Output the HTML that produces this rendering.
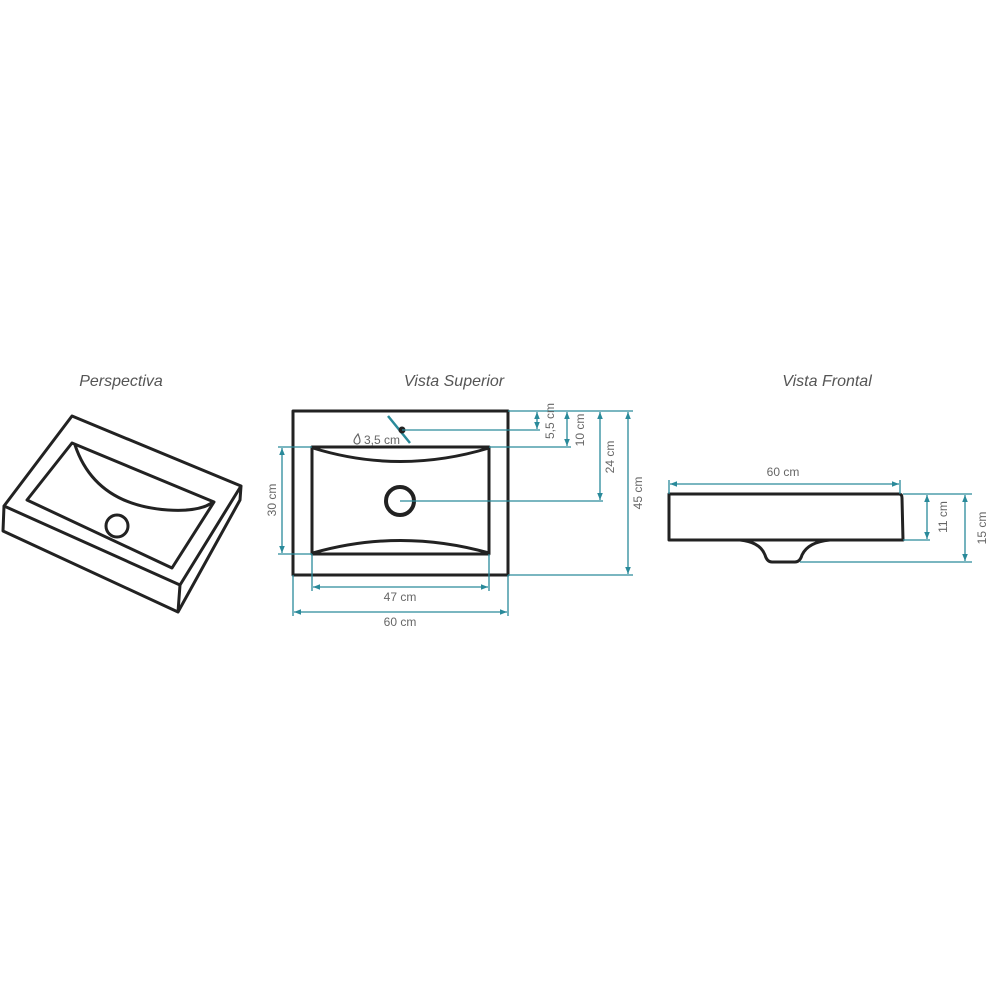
<!DOCTYPE html>
<html><head><style>
html,body{margin:0;padding:0;background:#fff;width:1000px;height:1000px;overflow:hidden}
svg{display:block}
.t{font-family:"Liberation Sans",sans-serif;font-style:italic;font-size:16px;fill:#555}
.d{font-family:"Liberation Sans",sans-serif;font-size:12px;fill:#666}
.k{fill:none;stroke:#222;stroke-width:3;stroke-linejoin:round}
.c{fill:none;stroke:#2a8a9a;stroke-width:1.3}
</style></head><body>
<svg width="1000" height="1000" viewBox="0 0 1000 1000">
<defs>
<marker id="a" viewBox="0 0 10 10" refX="10" refY="5" markerWidth="9" markerHeight="7" orient="auto-start-reverse" markerUnits="userSpaceOnUse"><path d="M0,1 L10,5 L0,9 Z" fill="#2a8a9a"/></marker>
</defs>
<text class="t" x="121" y="386" text-anchor="middle">Perspectiva</text>
<text class="t" x="454" y="386" text-anchor="middle">Vista Superior</text>
<text class="t" x="827" y="386" text-anchor="middle">Vista Frontal</text>

<!-- Perspective -->
<g class="k">
<path d="M72,416 L241,486 L180,585 L4,506 Z"/>
<path d="M4,506 L3,531 L178,612 L180,585"/>
<path d="M178,612 L240,500 L241,486"/>
<path d="M72,443 L214,502 L172,568 L27,500 Z"/>
<path d="M75,445 Q95,505 168,510 Q200,512 213,502"/>
<circle cx="117" cy="526" r="11"/>
</g>

<!-- Vista Superior -->
<g class="k">
<rect x="293" y="411" width="215" height="164"/>
<rect x="312" y="447" width="177" height="107"/>
<path d="M313,448 Q400,475 489,448"/>
<path d="M313,553 Q400,528 489,553"/>
<circle cx="400" cy="501" r="14" stroke-width="4"/>
</g>
<line x1="388" y1="416" x2="410" y2="443" stroke="#2a8a9a" stroke-width="2.5"/>
<circle cx="402" cy="430" r="3.5" fill="#222"/>
<g class="c">
<line x1="402" y1="430" x2="540" y2="430"/>
<line x1="400" y1="501" x2="603" y2="501"/>
<line x1="508" y1="411" x2="633" y2="411"/>
<line x1="508" y1="575" x2="633" y2="575"/>
<line x1="489" y1="447" x2="571" y2="447"/>
<line x1="537" y1="412" x2="537" y2="429" marker-start="url(#a)" marker-end="url(#a)"/>
<line x1="567" y1="412" x2="567" y2="446" marker-start="url(#a)" marker-end="url(#a)"/>
<line x1="600" y1="412" x2="600" y2="500" marker-start="url(#a)" marker-end="url(#a)"/>
<line x1="628" y1="412" x2="628" y2="574" marker-start="url(#a)" marker-end="url(#a)"/>
<line x1="278" y1="447" x2="312" y2="447"/>
<line x1="278" y1="554" x2="312" y2="554"/>
<line x1="282" y1="448" x2="282" y2="553" marker-start="url(#a)" marker-end="url(#a)"/>
<line x1="293" y1="575" x2="293" y2="616"/>
<line x1="508" y1="575" x2="508" y2="616"/>
<line x1="312" y1="554" x2="312" y2="591"/>
<line x1="489" y1="554" x2="489" y2="591"/>
<line x1="313" y1="587" x2="488" y2="587" marker-start="url(#a)" marker-end="url(#a)"/>
<line x1="294" y1="612" x2="507" y2="612" marker-start="url(#a)" marker-end="url(#a)"/>
</g>
<path d="M358,434 Q354,439 354,441 A3,3 0 0 0 360,441 Q360,439 358,434 Z" fill="none" stroke="#666" stroke-width="1.2"/>
<text class="d" x="364" y="444">3,5 cm</text>
<text class="d" x="400" y="601" text-anchor="middle">47 cm</text>
<text class="d" x="400" y="626" text-anchor="middle">60 cm</text>
<text class="d" transform="translate(276,500) rotate(-90)" text-anchor="middle">30 cm</text>
<text class="d" transform="translate(554,421) rotate(-90)" text-anchor="middle">5,5 cm</text>
<text class="d" transform="translate(584,430) rotate(-90)" text-anchor="middle">10 cm</text>
<text class="d" transform="translate(614,457) rotate(-90)" text-anchor="middle">24 cm</text>
<text class="d" transform="translate(642,493) rotate(-90)" text-anchor="middle">45 cm</text>

<!-- Vista Frontal -->
<g class="k">
<path d="M669,494 L899,494 Q902,494 902,498 L903,540 L669,540 Z"/>
<path d="M740,540 Q760,542 765,555 Q767,562 772,562 L795,562 Q800,562 802,555 Q808,542 830,540"/>
</g>
<g class="c">
<line x1="669" y1="480" x2="669" y2="494"/>
<line x1="900" y1="480" x2="900" y2="494"/>
<line x1="670" y1="484" x2="899" y2="484" marker-start="url(#a)" marker-end="url(#a)"/>
<line x1="903" y1="494" x2="972" y2="494"/>
<line x1="903" y1="540" x2="930" y2="540"/>
<line x1="800" y1="562" x2="972" y2="562"/>
<line x1="927" y1="495" x2="927" y2="539" marker-start="url(#a)" marker-end="url(#a)"/>
<line x1="965" y1="495" x2="965" y2="561" marker-start="url(#a)" marker-end="url(#a)"/>
</g>
<text class="d" x="783" y="476" text-anchor="middle">60 cm</text>
<text class="d" transform="translate(947,517) rotate(-90)" text-anchor="middle">11 cm</text>
<text class="d" transform="translate(986,528) rotate(-90)" text-anchor="middle">15 cm</text>
</svg>
</body></html>
